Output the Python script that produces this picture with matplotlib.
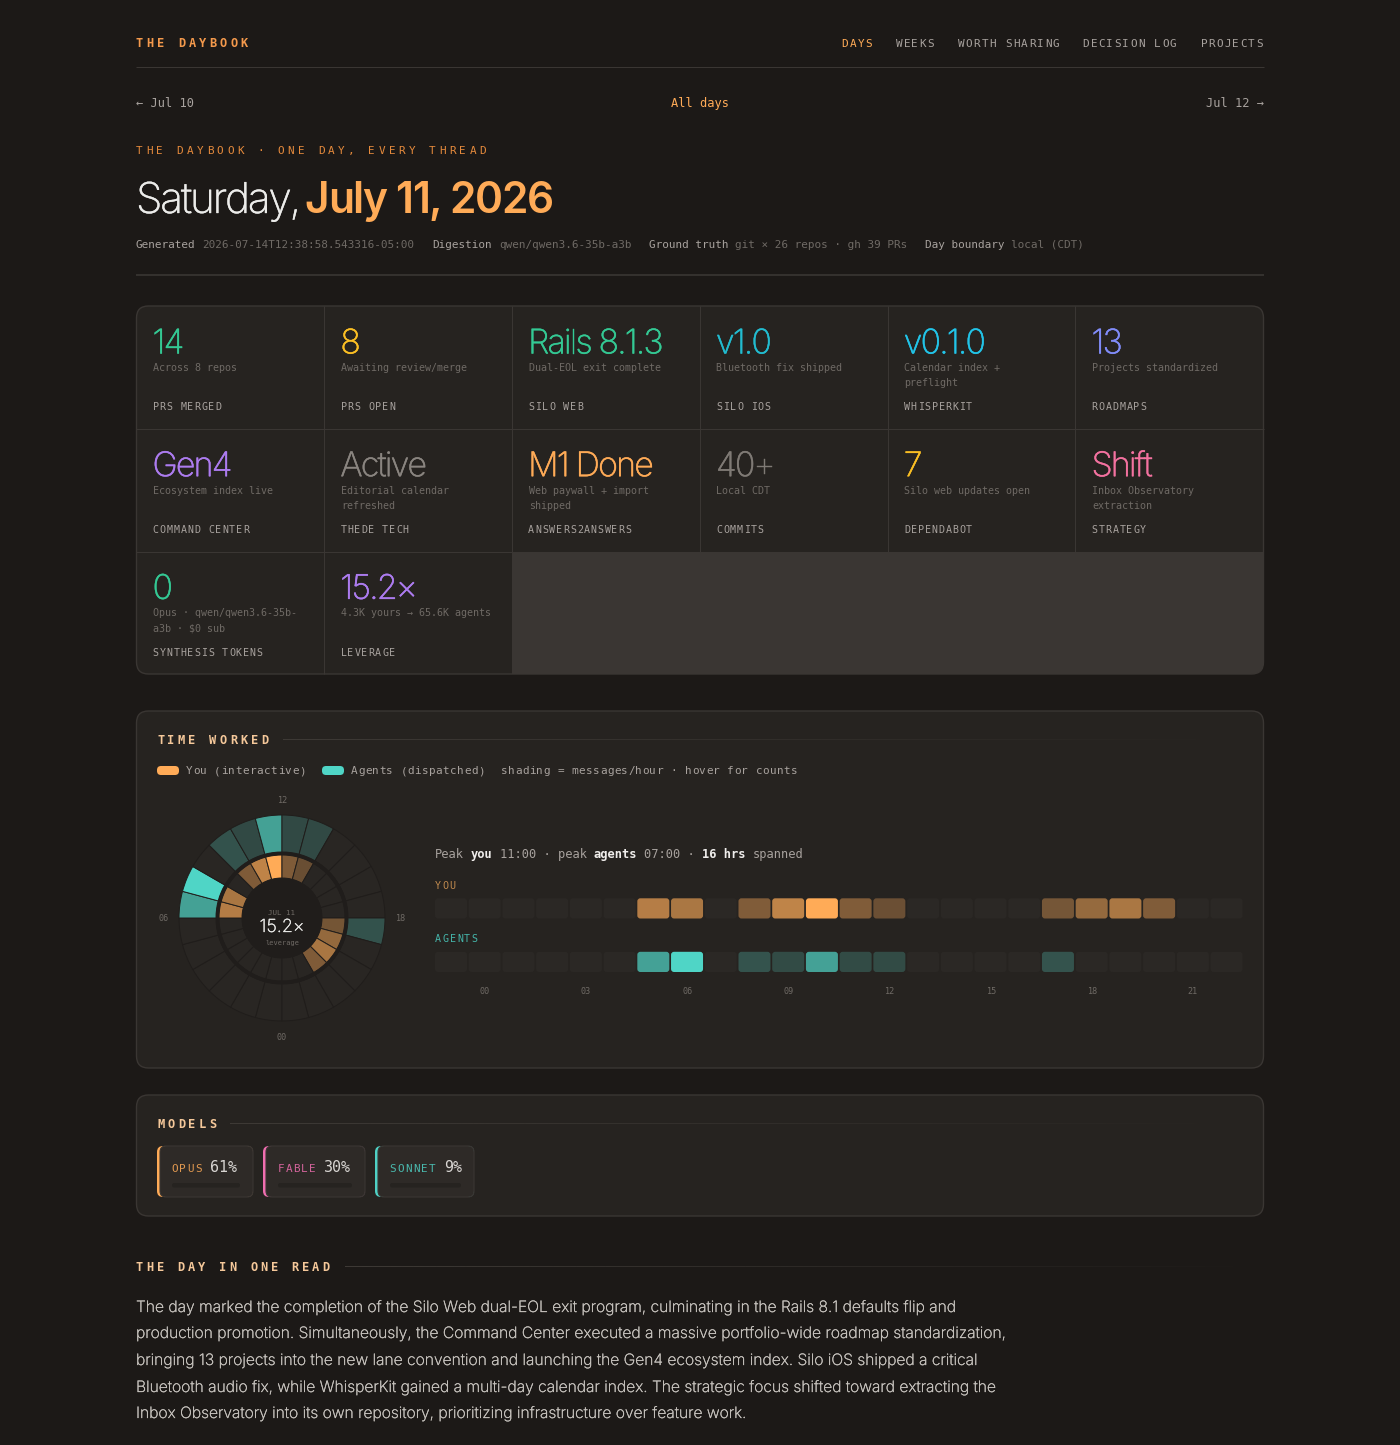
import numpy as np
import matplotlib
matplotlib.use("Agg")
import matplotlib.pyplot as plt
import matplotlib.patheffects as pe
from matplotlib.patches import FancyBboxPatch, Rectangle
from matplotlib.colors import to_rgb
from matplotlib.font_manager import FontProperties
from matplotlib.textpath import text_to_path

# ---------- data ----------
NAV = ["DAYS", "WEEKS", "WORTH SHARING", "DECISION LOG", "PROJECTS"]
KPI_VALUES = ["14", "8", "Rails 8.1.3", "v1.0", "v0.1.0", "13",
              "Gen4", "Active", "M1 Done", "40+", "7", "Shift",
              "0", "15.2×"]
KPI_NOTES = [["Across 8 repos"], ["Awaiting review/merge"], ["Dual-EOL exit complete"],
             ["Bluetooth fix shipped"], ["Calendar index +", "preflight"], ["Projects standardized"],
             ["Ecosystem index live"], ["Editorial calendar", "refreshed"], ["Web paywall + import", "shipped"],
             ["Local CDT"], ["Silo web updates open"], ["Inbox Observatory", "extraction"],
             ["Opus · qwen/qwen3.6-35b-", "a3b · $0 sub"], ["4.3K yours → 65.6K agents"]]
KPI_LABELS = ["PRS MERGED", "PRS OPEN", "SILO WEB", "SILO IOS", "WHISPERKIT", "ROADMAPS",
              "COMMAND CENTER", "THEDE TECH", "ANSWERS2ANSWERS", "COMMITS", "DEPENDABOT", "STRATEGY",
              "SYNTHESIS TOKENS", "LEVERAGE"]
KPI_COLORS = ["#34c994", "#fbbf24", "#34c994", "#22bcd0", "#22c4e8", "#818cf8",
              "#ad7cf0", "#8a8580", "#ffab57", "#7f7a75", "#fbbf24", "#f472a0",
              "#34c994", "#ad7cf0"]
YOU = [0, 0, 0, 0, 0, 0, .65, .6, 0, .4, .7, 1, .4, .3, 0, 0, 0, 0, .35, .5, .6, .4, 0, 0]
AGENTS = [0, 0, 0, 0, 0, 0, .7, 1, 0, .25, .2, .7, .2, .2, 0, 0, 0, 0, .25, 0, 0, 0, 0, 0]
HOUR_TICKS = ["00", "03", "06", "09", "12", "15", "18", "21"]
MODELS = ["OPUS", "FABLE", "SONNET"]
MODEL_SHARE = ["61%", "30%", "9%"]
MODEL_COLORS = ["#ffab57", "#f06eb0", "#4fd1c5"]
PARAGRAPH = [
    "The day marked the completion of the Silo Web dual-EOL exit program, culminating in the Rails 8.1 defaults flip and",
    "production promotion. Simultaneously, the Command Center executed a massive portfolio-wide roadmap standardization,",
    "bringing 13 projects into the new lane convention and launching the Gen4 ecosystem index. Silo iOS shipped a critical",
    "Bluetooth audio fix, while WhisperKit gained a multi-day calendar index. The strategic focus shifted toward extracting the",
    "Inbox Observatory into its own repository, prioritizing infrastructure over feature work.",
]

# ---------- style ----------
PAGE = "#1c1917"; CARD = "#262320"; LINE = "#3a3633"; EMPTY = "#2b2825"
ORANGE = "#ffab57"; TEAL = "#4fd5c6"; EYEBROW = "#e58a3c"; HEAD = "#f5c89a"
MUTED = "#a8a29e"; DIM = "#6f6a65"; MONO = "DejaVu Sans Mono"; SANS = "Inter"

fig = plt.figure(figsize=(14, 14.45), dpi=100, facecolor=PAGE)
ax = fig.add_axes([0, 0, 1, 1])
ax.set_xlim(0, 1400); ax.set_ylim(1445, 0); ax.axis("off")
PT = 0.72


def T(x, y, s, px, color, family=MONO, weight="normal", ha="left", stroke=0, on=None, **kw):
    target = on if on is not None else ax
    t = target.text(x, y, s, fontsize=px * PT, color=color, family=family, weight=weight,
                    ha=ha, va="baseline", zorder=6, transform=ax.transData, clip_on=False, **kw)
    if stroke:
        t.set_path_effects([pe.withStroke(linewidth=stroke, foreground=color)])
    return t


def spaced(x, y, s, px, step, color, weight="normal"):
    for i, c in enumerate(s):
        if c != " ":
            T(x + i * step, y, c, px, color, weight=weight)


def width(s, px, family, weight):
    prop = FontProperties(family=family, weight=weight, size=px)
    w1 = text_to_path.get_text_width_height_descent(s + "|", prop, False)[0]
    w0 = text_to_path.get_text_width_height_descent("|", prop, False)[0]
    return w1 - w0


def tracked(x, y, s, px, track, color, weight="normal", family=SANS, stroke=0):
    for i, c in enumerate(s):
        if c != " ":
            T(x + width(s[:i], px, family, weight) + track * i, y, c, px, color,
              family=family, weight=weight, stroke=stroke)


def rbox(x0, y0, x1, y1, r, fc, ec="none", lw=0, z=1, **kw):
    p = FancyBboxPatch((x0 + r, y0 + r), x1 - x0 - 2 * r, y1 - y0 - 2 * r,
                       boxstyle=f"round,pad={r},rounding_size={r}", fc=fc, ec=ec, lw=lw, zorder=z, **kw)
    ax.add_patch(p)
    return p


def blend(color, a, base=EMPTY):
    c, b = np.array(to_rgb(color)), np.array(to_rgb(base))
    return tuple(b + (c - b) * a)


def hline(x0, x1, y, color=LINE, lw=.72, z=2):
    ax.plot([x0, x1], [y, y], color=color, lw=lw, zorder=z, solid_capstyle="butt")


def vline(x, y0, y1, color=LINE, lw=.72, z=2):
    ax.plot([x, x], [y0, y1], color=color, lw=lw, zorder=z, solid_capstyle="butt")


def fade_line(x0, x1, y):
    rgba = np.zeros((1, 256, 4))
    rgba[..., :3] = to_rgb("#3e3a36")
    rgba[..., 3] = np.linspace(1, 0, 256)
    ax.imshow(rgba, extent=[x0, x1, y + .5, y - .5], aspect="auto", zorder=3, interpolation="bilinear")
    ax.set_xlim(0, 1400); ax.set_ylim(1445, 0)


# ---------- header ----------
spaced(136, 47, "THE DAYBOOK", 12, 10.47, "#f4994c", "bold")
for s, x, col in zip(NAV, [841.6, 895.6, 957.6, 1082.6, 1200.6], [ORANGE] + [MUTED] * 4):
    spaced(x, 47, s, 11, 7.93, col)
hline(136, 1264, 67)
T(136, 107, "← Jul 10", 12, MUTED)
T(700, 107, "All days", 12, ORANGE, ha="center")
T(1264, 107, "Jul 12 →", 12, MUTED, ha="right")
spaced(136, 154, "THE DAYBOOK · ONE DAY, EVERY THREAD", 11, 10.1, EYEBROW)
tracked(136, 213, "Saturday,", 42.5, -2.25, "#ececea", "light", stroke=.25)
tracked(304.5, 213, "July 11, 2026", 42.5, -1.4, ORANGE, "semibold")
for x, s, c, y in [(136, "Generated", MUTED, 248), (202, "2026-07-14T12:38:58.543316-05:00", DIM, 248),
                   (432, "Digestion", MUTED, 248), (499, "qwen/qwen3.6-35b-a3b", DIM, 248),
                   (649, "Ground truth", MUTED, 248), (735, "git × 26 repos · gh 39 PRs", DIM, 248),
                   (925, "Day boundary", MUTED, 248), (1011, "local (CDT)", DIM, 247.5)]:
    T(x, y, s, 11, c)
hline(136, 1264, 275, lw=1.2)

# ---------- KPI grid ----------
card = rbox(136.5, 306, 1263.5, 674, 12, CARD, LINE, 1, z=1)
rest = Rectangle((512, 552), 752, 122, fc="#3a3633", ec="none", zorder=1.5)
ax.add_patch(rest); rest.set_clip_path(card)
for gx in [324.5, 512.5, 700.5, 888.5, 1075.5]:
    vline(gx - .5, 306, 552)
vline(324, 552, 674)
hline(136, 1264, 428.5)
hline(136, 512, 551.5)
for i, (v, notes, lab, col) in enumerate(zip(KPI_VALUES, KPI_NOTES, KPI_LABELS, KPI_COLORS)):
    r, c = divmod(i, 6)
    x = 153 + 187.8 * c
    top = 122.7 * r
    tracked(x - .5, 353.5 + top, v, 34, -1.85, col, "light", stroke=.3)
    for j, n in enumerate(notes):
        T(x, 371 + top + j * 15.5, n, 10, DIM)
    spaced(x - .3, 410.5 + top, lab, 10, 6.93, MUTED)

# ---------- time worked ----------
rbox(136.5, 711, 1263.5, 1068, 12, CARD, LINE, 1)
spaced(157, 744, "TIME WORKED", 12, 10.4, HEAD, "bold")
fade_line(283, 1243, 739.5)
rbox(157, 766, 179, 775, 4, ORANGE, z=3)
rbox(322, 766, 344, 775, 4, TEAL, z=3)
spaced(186, 774, "You (interactive)", 11, 7.06, MUTED)
spaced(351, 774, "Agents (dispatched)", 11, 7.06, MUTED)
spaced(501, 774, "shading = messages/hour · hover for counts", 11, 7.07, MUTED)

# polar clock
CX, CY, RM = 282, 918, 105
pax = fig.add_axes([(CX - RM) / 1400, 1 - (CY + RM) / 1445, 2 * RM / 1400, 2 * RM / 1445], projection="polar")
pax.set_theta_zero_location("S"); pax.set_theta_direction(-1)
pax.set_ylim(0, RM); pax.axis("off"); pax.patch.set_alpha(0)
pax.set_zorder(2)
theta = np.arange(24) * 2 * np.pi / 24
wid = 2 * np.pi / 24
SEP = "#201d1b"
pax.bar(theta, 37, bottom=66, width=wid, align="edge",
        color=[blend(TEAL, a, "#292623") for a in AGENTS], edgecolor=SEP, linewidth=.7)
pax.bar(theta, 23, bottom=40, width=wid, align="edge",
        color=[blend(ORANGE, a, "#292623") for a in YOU], edgecolor=SEP, linewidth=.7)
pax.bar(0, 3, bottom=63, width=2 * np.pi, color=SEP, linewidth=0)
pax.bar(0, 40, bottom=0, width=2 * np.pi, color=SEP, linewidth=0)
for s, x, y in [("12", 282, 803), ("18", 400, 921), ("00", 282, 1040), ("06", 163.5, 921)]:
    T(x, y, s, 8.5, DIM, ha="center")
T(282, 915, "JUL 11", 7.5, DIM, ha="center", on=pax)
T(282, 932, "15.2×", 18, "#ececea", family=SANS, weight="light", ha="center", on=pax, stroke=.2)
T(282, 945, "leverage", 7, DIM, ha="center", on=pax)

# peak line
px = 435
for s, c, w in [("Peak", MUTED, "normal"), ("you", "#f0eeec", "bold"), ("11:00 · peak", MUTED, "normal"),
                ("agents", "#f0eeec", "bold"), ("07:00 ·", MUTED, "normal"), ("16 hrs", "#f0eeec", "bold"),
                ("spanned", MUTED, "normal")]:
    T(px, 858, s, 12, c, weight=w)
    px += (len(s) + 1) * 7.22

# hour strips
STEP, CELL = 33.72, 32
spaced(435, 889, "YOU", 10, 7.2, "#c08a4e")
spaced(435, 942, "AGENTS", 10, 7.3, "#45b5aa")
for h, (a, b) in enumerate(zip(YOU, AGENTS)):
    x = 435 + h * STEP
    rbox(x, 898.3, x + CELL, 918.5, 3, blend(ORANGE, a), z=3)
    rbox(x, 951.8, x + CELL, 972, 3, blend(TEAL, b), z=3)
for i, s in enumerate(HOUR_TICKS):
    T(434.3 + (3 * i + 1.5) * STEP, 994, s, 8.5, DIM, ha="center")

# ---------- models ----------
rbox(136.5, 1095, 1263.5, 1216, 12, CARD, LINE, 1)
spaced(157, 1128, "MODELS", 12, 10.4, HEAD, "bold")
fade_line(230, 1243, 1123.5)
for name, share, col, x0, x1, xv in zip(MODELS, MODEL_SHARE, MODEL_COLORS,
                                         [157, 263, 375], [253, 365, 474], [210, 324, 444]):
    rbox(x0, 1146, x1, 1197, 6, col, z=3)
    rbox(x0 + 3, 1146, x1, 1197, 6, "#2e2a27", LINE, .8, z=3.1)
    spaced(x0 + 14.6, 1172, name, 11, 7.75, blend(col, .85, "#2e2a27"))
    T(xv, 1172.5, share, 15, "#d8d5d2")
    rbox(x0 + 15, 1183, x1 - 13, 1187.5, 2, "#262320", z=3.2)

# ---------- narrative ----------
spaced(136, 1271, "THE DAY IN ONE READ", 12, 10.37, HEAD, "bold")
fade_line(345, 1264, 1266.5)
for y, line in zip([1312, 1338, 1365, 1392, 1418], PARAGRAPH):
    T(136, y, line, 15.65, "#c9c5c0", family=SANS, weight="light", stroke=.2)

fig.savefig("out.png", dpi=100, facecolor=PAGE)
